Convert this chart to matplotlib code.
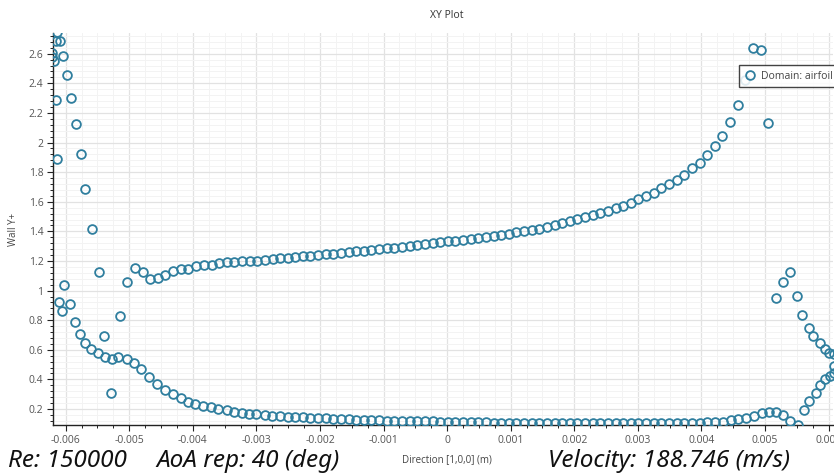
import matplotlib
matplotlib.use('Agg')
import matplotlib.pyplot as plt
import numpy as np
from matplotlib.ticker import MultipleLocator, FuncFormatter

# ---------------- data (x in mm, converted to m for plotting) ----------------
x_upper_mm = [-4.91, -4.79, -4.68, -4.55, -4.44, -4.32, -4.19, -4.08, -3.95, -3.83,
              -3.70, -3.59, -3.47, -3.35, -3.23, -3.10, -2.99, -2.87, -2.74,
              -2.63, -2.51, -2.39, -2.27, -2.15, -2.03, -1.91, -1.79, -1.67, -1.55,
              -1.43, -1.31, -1.19, -1.07, -0.95, -0.83, -0.71, -0.59, -0.47, -0.35,
              -0.23, -0.11, 0.01, 0.13, 0.25, 0.37, 0.49, 0.61, 0.73, 0.85,
              0.97, 1.09, 1.21, 1.33, 1.45, 1.57, 1.69, 1.81, 1.93, 2.05,
              2.17, 2.29, 2.41, 2.53, 2.65, 2.77, 2.89, 3.01, 3.13, 3.25,
              3.37, 3.49, 3.61, 3.73, 3.85, 3.97, 4.09, 4.21, 4.33, 4.45,
              4.57, 4.69, 4.81, 4.93, 5.05]
y_upper = [1.155, 1.123, 1.081, 1.088, 1.103, 1.130, 1.144, 1.148, 1.164, 1.171,
           1.175, 1.184, 1.191, 1.195, 1.200, 1.202, 1.202, 1.207, 1.211,
           1.218, 1.222, 1.226, 1.231, 1.236, 1.240, 1.245, 1.250, 1.255, 1.260,
           1.265, 1.270, 1.275, 1.280, 1.285, 1.290, 1.296, 1.302, 1.308, 1.314,
           1.320, 1.326, 1.332, 1.338, 1.344, 1.350, 1.357, 1.364, 1.371, 1.378,
           1.385, 1.393, 1.401, 1.409, 1.418, 1.428, 1.440, 1.458, 1.470, 1.483,
           1.496, 1.510, 1.524, 1.538, 1.555, 1.572, 1.595, 1.617, 1.636, 1.658,
           1.690, 1.720, 1.750, 1.780, 1.825, 1.862, 1.915, 1.976, 2.044, 2.139,
           2.254, 2.423, 2.641, 2.625, 2.132]

x_lower_mm = [-5.85, -5.78, -5.69, -5.60, -5.49, -5.38, -5.27, -5.17, -5.04, -4.93,
              -4.81, -4.69, -4.56, -4.44, -4.32, -4.19, -4.08, -3.96, -3.84, -3.72,
              -3.60, -3.47, -3.35, -3.23, -3.11, -3.00, -2.87, -2.75,
              -2.63, -2.51, -2.39, -2.27, -2.15, -2.03, -1.91, -1.79, -1.67, -1.55,
              -1.43, -1.31, -1.19, -1.07, -0.95, -0.83, -0.71, -0.59, -0.47, -0.35,
              -0.23, -0.11, 0.01, 0.13, 0.25, 0.37, 0.49, 0.61, 0.73, 0.85,
              0.97, 1.09, 1.21, 1.33, 1.45, 1.57, 1.69, 1.81, 1.93, 2.05,
              2.17, 2.29, 2.41, 2.53, 2.65, 2.77, 2.89, 3.01, 3.13, 3.25,
              3.37, 3.49, 3.61, 3.73, 3.85,
              3.97, 4.09, 4.21, 4.335, 4.46, 4.58, 4.70, 4.82, 4.95, 5.07,
              5.18, 5.29, 5.40, 5.52]
y_lower = [0.786, 0.705, 0.648, 0.605, 0.576, 0.553, 0.540, 0.549, 0.536, 0.509,
           0.468, 0.418, 0.369, 0.328, 0.299, 0.272, 0.249, 0.234, 0.220, 0.211,
           0.198, 0.191, 0.178, 0.173, 0.168, 0.164, 0.159, 0.155,
           0.151, 0.148, 0.146, 0.143, 0.140, 0.138, 0.136, 0.134, 0.132, 0.130,
           0.128, 0.126, 0.125, 0.123, 0.122, 0.121, 0.120, 0.119, 0.118, 0.117,
           0.116, 0.115, 0.114, 0.113, 0.112, 0.111, 0.110, 0.109, 0.108, 0.108,
           0.107, 0.106, 0.106, 0.105, 0.105, 0.104, 0.104, 0.104, 0.103, 0.103,
           0.103, 0.103, 0.103, 0.103, 0.103, 0.103, 0.104, 0.104, 0.104, 0.104,
           0.105, 0.105, 0.106, 0.106, 0.107,
           0.108, 0.109, 0.111, 0.114, 0.124, 0.132, 0.139, 0.155, 0.171, 0.180,
           0.182, 0.160, 0.119, 0.092]

x_le_mm = [-6.14, -6.16, -6.09, -6.21, -6.22, -6.19, -6.05, -5.98, -6.16, -5.92,
           -5.84, -5.76, -6.14, -5.69, -5.58, -5.48, -5.04, -6.02, -6.11, -5.94,
           -6.06, -5.15, -5.39, -5.28]
y_le = [2.75, 2.686, 2.686, 2.605, 2.578, 2.551, 2.585, 2.457, 2.288, 2.301,
        2.125, 1.922, 1.888, 1.686, 1.416, 1.125, 1.058, 1.036, 0.925, 0.910,
        0.861, 0.828, 0.693, 0.308]

x_te_mm = [5.17, 5.29, 5.40, 5.50, 5.59, 5.70, 5.76, 5.86, 5.94, 6.00, 6.08,
           5.61, 5.70, 5.80, 5.87, 5.95, 6.02, 6.08, 6.09]
y_te = [0.949, 1.057, 1.125, 0.963, 0.835, 0.747, 0.693, 0.646, 0.605, 0.578, 0.572,
        0.193, 0.254, 0.308, 0.362, 0.402, 0.423, 0.443, 0.49]

series_label = 'Domain: airfoil'
title = 'XY Plot'
xlabel = 'Direction [1,0,0] (m)'
ylabel = 'Wall Y+'
note_re = 'Re: 150000'
note_aoa = 'AoA rep: 40 (deg)'
note_right = 'Velocity: 188.746 (m/s)'

x_all = np.array(x_le_mm + x_upper_mm + x_te_mm + x_lower_mm) * 1e-3
y_all = np.array(y_le + y_upper + y_te + y_lower)

# ---------------- figure ----------------
plt.rcParams['font.family'] = ['Open Sans', 'DejaVu Sans']
W, H = 834, 473
fig = plt.figure(figsize=(W / 100, H / 100), dpi=100)
ax = fig.add_axes([53 / W, 48 / H, 780 / W, 392 / H])

color = '#2f7e9e'
ax.plot(x_all, y_all, linestyle='none', marker='o', mfc='none', mec=color,
        ms=6.3, mew=1.3, label=series_label, zorder=3)

ax.set_xlim(-0.0062, 0.00607)
ax.set_ylim(0.092, 2.74)

ax.xaxis.set_major_locator(MultipleLocator(0.001))
ax.xaxis.set_minor_locator(MultipleLocator(0.00025))
ax.yaxis.set_major_locator(MultipleLocator(0.2))
ax.yaxis.set_minor_locator(MultipleLocator(0.04))
ax.xaxis.set_major_formatter(FuncFormatter(lambda v, p: '%g' % round(v, 6)))
ax.yaxis.set_major_formatter(FuncFormatter(lambda v, p: '%g' % round(v, 3)))

ax.set_axisbelow(True)
ax.grid(which='major', color='#e2e2e2', lw=0.9)
ax.grid(which='minor', color='#f3f3f3', lw=0.7)

for s in ['top', 'right']:
    ax.spines[s].set_visible(False)
for s in ['left', 'bottom']:
    ax.spines[s].set_color('#222222')
    ax.spines[s].set_linewidth(1.0)

ax.tick_params(which='major', direction='out', length=4, width=0.8,
               colors='#222222', labelsize=7.5, labelcolor='#555555', pad=3)
ax.tick_params(which='minor', direction='out', length=2.5, width=0.7, colors='#222222')

fig.text(447 / W, 1 - 15 / H, title, ha='center', va='center', fontsize=7.5, color='#333333')
fig.text(14 / W, 1 - 229 / H, ylabel, ha='center', va='center', rotation=90,
         fontsize=7, color='#444444')
fig.text(447 / W, 1 - 460 / H, xlabel, ha='center', va='center', fontsize=7, color='#444444')

big = dict(va='center', fontsize=17.5, style='italic', color='#111111',
           family=['Noto Sans', 'DejaVu Sans'])
fig.text(8 / W, 1 - 461 / H, note_re, ha='left', **big)
fig.text(340 / W, 1 - 461 / H, note_aoa, ha='right', **big)
fig.text(548 / W, 1 - 461 / H, note_right, ha='left', **big)

leg = ax.legend(loc='upper left', bbox_to_anchor=(739 / W, 1 - 65 / H),
                bbox_transform=fig.transFigure, frameon=True, fancybox=False,
                edgecolor='#222222', framealpha=0.85, fontsize=7.5, borderpad=0.55,
                handletextpad=0.6, handlelength=1.0, borderaxespad=0)
leg.get_frame().set_linewidth(1.0)
for t in leg.get_texts():
    t.set_color('#444444')

fig.savefig('out.png', dpi=100)
